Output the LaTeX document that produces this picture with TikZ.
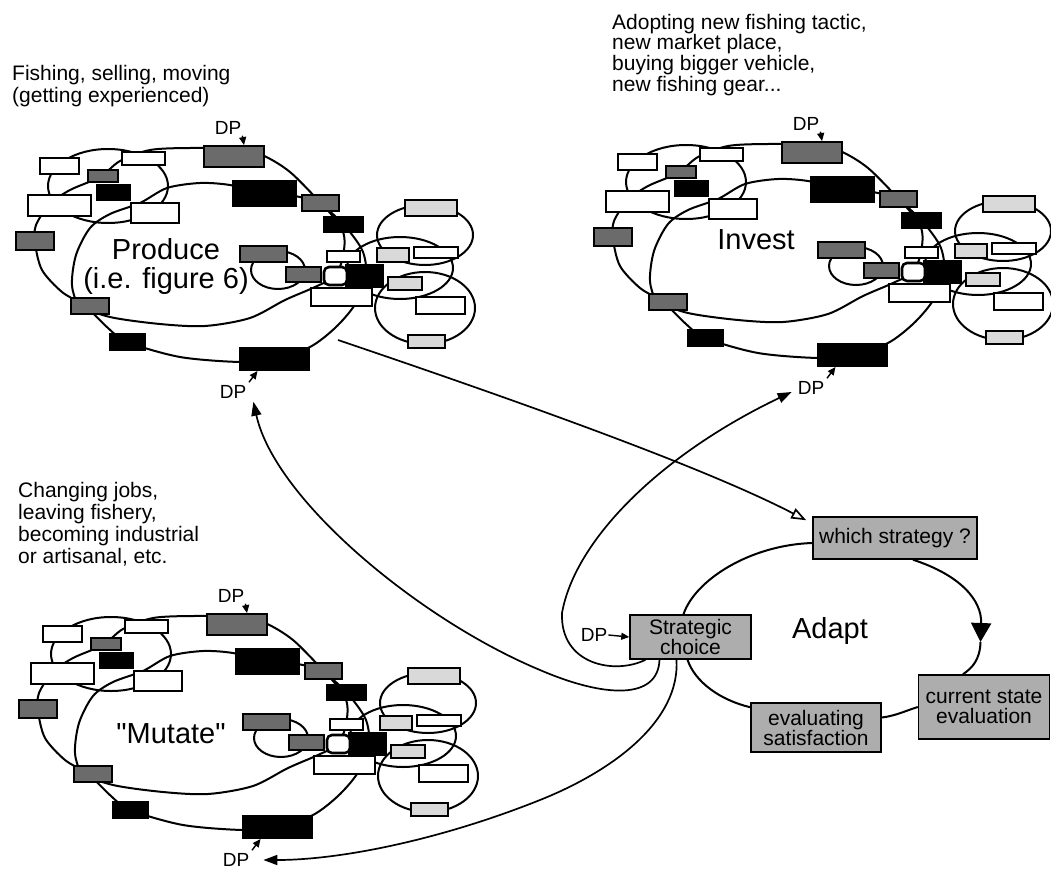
\documentclass[tikz,border=0pt]{standalone}
\usepackage{fontspec}
\setmainfont{Liberation Sans}
\usetikzlibrary{arrows.meta}
\tikzset{
  loopline/.style={line width=2pt},
  wbox/.style={draw, fill=white, line width=2.6pt, inner sep=0pt},
  gbox/.style={draw, fill=black!58, line width=1.8pt, inner sep=0pt},
  lbox/.style={draw, fill=black!15, line width=1.8pt, inner sep=0pt},
  kbox/.style={draw, fill=black, line width=1pt, inner sep=0pt},
  sz/.style 2 args={minimum width=#1pt, minimum height=#2pt},
  dptext/.style={font=\fontsize{19}{19}\selectfont, inner sep=1pt},
  ptr/.style={-{Triangle[length=8pt,width=7pt]}, line width=1.4pt},
  abox/.style={draw, fill=black!32, line width=1.5pt, inner sep=0pt, align=center,
               font=\fontsize{21}{20}\selectfont},
  desc/.style={align=left, anchor=north west, inner sep=0pt},
  modlabel/.style={align=center, font=\fontsize{29}{29}\selectfont, inner sep=0pt},
  bigarrow/.style={line width=1.7pt, -{Triangle[length=14pt,width=10pt]}},
  hollow/.style={line width=1.7pt, -{Triangle[open,length=15pt,width=11pt]}},
  % one activity module: loops of activities with their boxes
  module/.pic={
    \draw[loopline] (108,186) ellipse [x radius=60pt, y radius=37pt];
    \draw[loopline] plot[smooth cycle] coordinates {(234,149) (190,148) (150,150) (120,161)
      (100,177) (70,190) (50,204) (36,225) (35,243) (42,270) (62,292) (85,306) (108,328)
      (127,342) (180,357) (240,362) (275,359) (310,347) (335,328) (354,306) (366,280)
      (363,252) (345,226) (322,204) (290,172) (262,155)};
    \draw[loopline] plot[smooth cycle] coordinates {(264,193) (230,185) (200,183) (167,188)
      (140,203) (110,214) (90,228) (76,255) (72,285) (80,305) (110,317) (160,324) (205,326)
      (250,318) (285,300) (315,287) (335,276) (343,256) (343,232) (322,205) (295,196)};
    \draw[loopline] (278,270) ellipse [x radius=27pt, y radius=19pt];
    \draw[loopline] (425,235) ellipse [x radius=48pt, y radius=30pt];
    \draw[loopline] (400,268) ellipse [x radius=53pt, y radius=31pt];
    \draw[loopline] (425,308) ellipse [x radius=50pt, y radius=36pt];
    % boxes on the loops
    \node[gbox, sz={60}{21}] (dpt) at (234,156.5) {};
    \node[kbox, sz={64}{26}] (k1) at (264.5,193.5) {};
    \node[gbox, sz={37}{16}] (g1) at (320.5,203) {};
    \node[kbox, sz={40}{16}] (k2) at (343.5,224.5) {};
    \node[lbox, sz={52}{16}] (l1) at (431,208) {};
    \node[wbox, sz={39}{16}] (wa) at (59.5,166) {};
    \node[wbox, sz={43}{13}] (wb) at (143.5,158.5) {};
    \node[gbox, sz={30}{12}] (g2) at (103,176) {};
    \node[kbox, sz={34}{16}] (k3) at (113.5,192.5) {};
    \node[wbox, sz={63}{21}] (wc) at (59.5,205.5) {};
    \node[wbox, sz={48}{20}] (wd) at (155,213) {};
    \node[gbox, sz={38}{18}] (g3) at (35,241) {};
    \node[gbox, sz={47}{16}] (g4) at (263.5,254) {};
    \node[gbox, sz={35}{15}] (g5) at (303.5,274.5) {};
    \node[kbox, sz={38}{23}] (k4) at (364.5,276) {};
    \node[wbox, rounded corners=5pt, sz={23}{18}] (wcap) at (335.5,276) {};
    \node[wbox, sz={33}{11}] (we) at (343.5,256.5) {};
    \node[wbox, sz={61}{18}] (wf) at (341.5,297) {};
    \node[lbox, sz={32}{14}] (l2) at (393,255) {};
    \node[wbox, sz={44}{11}] (wh) at (436,252.5) {};
    \node[lbox, sz={34}{13}] (l3) at (405,283.5) {};
    \node[wbox, sz={49}{17}] (wj) at (440.5,305.5) {};
    \node[lbox, sz={37}{13}] (l4) at (426.5,341.5) {};
    \node[gbox, sz={38}{16}] (g6) at (90,306) {};
    \node[kbox, sz={36}{17}] (k5) at (127.5,342) {};
    \node[kbox, sz={70}{23}] (dpb) at (274.5,359) {};
    % decision points
    \node[dptext] (dpttxt) at (228,128) {DP};
    \node[dptext] (dpbtxt) at (233,392) {DP};
    \draw[ptr] (dpttxt.south east) -- ([xshift=10pt]dpt.north);
    \draw[ptr] ([shift={(16pt,2pt)}]dpbtxt.north) -- ([xshift=-17pt]dpb.south);
    \coordinate (out) at (338,340);
  }
}
\begin{document}
\begin{tikzpicture}[x=1pt,y=-1pt]
\useasboundingbox (0,0) rectangle (1051,872);
\fill[white] (0,0) rectangle (1051,872);

% what each activity is about
\node[desc, font=\fontsize{21}{22}\selectfont] (pdesc) at (12,65)
  {Fishing, selling, moving\\(getting experienced)};
\node[desc, font=\fontsize{21}{19.5}\selectfont] (idesc) at (612,14)
  {Adopting new fishing tactic,\\new market place,\\buying bigger vehicle,\\new fishing gear...};
\node[desc, font=\fontsize{21}{22}\selectfont] (mdesc) at (18,482)
  {Changing jobs,\\leaving fishery,\\becoming industrial\\or artisanal, etc.};

% the three activity modules
\pic (P) at (0,0) {module};
\pic (I) at (578,-4) {module};
\pic (M) at (3,468) {module};

\node[modlabel, anchor=north] (plab) at (166,238) {Produce\\(i.e. figure 6)};
\node[modlabel, anchor=north] (ilab) at (756,229) {Invest};
\node[modlabel, anchor=north] (mlab) at (171,723) {\textquotedbl Mutate\textquotedbl};

% adaptation cycle
\node[abox, sz={164}{42}] (whichS) at (895,538) {which strategy ?};
\node[abox, sz={121}{44}] (stratC) at (690.5,637) {Strategic\\choice};
\node[abox, sz={130}{49}] (evalS) at (816,727.5) {evaluating\\satisfaction};
\node[abox, sz={131}{64}] (curS) at (984,707) {current state\\evaluation};
\node[font=\fontsize{29}{29}\selectfont, anchor=base, inner sep=0pt] (adapt) at (830,638) {Adapt};
\node[dptext] (adp) at (594,635) {DP};
\coordinate (cyc) at (980.5,642);

% links from the strategic choice to the decision points
\draw[bigarrow] ([xshift=-45pt]stratC.south) .. controls (615,675) and (560,665) .. (562,613)
  .. controls (575,540) and (660,455) .. ([shift={(-5pt,-4pt)}]Idpbtxt.west);
\draw[bigarrow] ([xshift=-31pt]stratC.south) .. controls (658,700) and (605,698) .. (540,670)
  .. controls (420,620) and (275,500) .. ([shift={(6pt,-2pt)}]Pdpbtxt.south east);
\draw[bigarrow] ([xshift=-14pt]stratC.south) .. controls (680,720) and (615,770) .. (540,800)
  .. controls (440,840) and (340,860) .. ([xshift=13pt]Mdpbtxt.east);
\draw[hollow] (Pout) .. controls (500,395) and (700,465) .. ([shift={(-6pt,-4pt)}]whichS.north west);

\draw[loopline] ([xshift=-7pt]stratC.north) .. controls (695,580) and (750,545) .. ([yshift=-5pt]whichS.west);
\draw[loopline, -{Triangle[length=19pt,width=20pt]}] ([xshift=18pt]whichS.south)
  .. controls (960,575) and (982,600) .. (cyc);
\draw[loopline] (cyc) .. controls (980,660) and (972,668) .. ([xshift=-21pt]curS.north);
\draw[loopline] (curS.west) .. controls (905,711) and (895,716) .. ([yshift=10pt]evalS.east);
\draw[loopline] ([yshift=-5pt]evalS.north west) .. controls (720,700) and (695,682) .. ([xshift=-3pt]stratC.south);
\draw[ptr] (adp.east) -- (stratC.west);

% redraw boxes above the curves
\node[abox, sz={164}{42}] at (whichS) {which strategy ?};
\node[abox, sz={121}{44}] at (stratC) {Strategic\\choice};
\node[abox, sz={130}{49}] at (evalS) {evaluating\\satisfaction};
\node[abox, sz={131}{64}] at (curS) {current state\\evaluation};
\end{tikzpicture}
\end{document}
